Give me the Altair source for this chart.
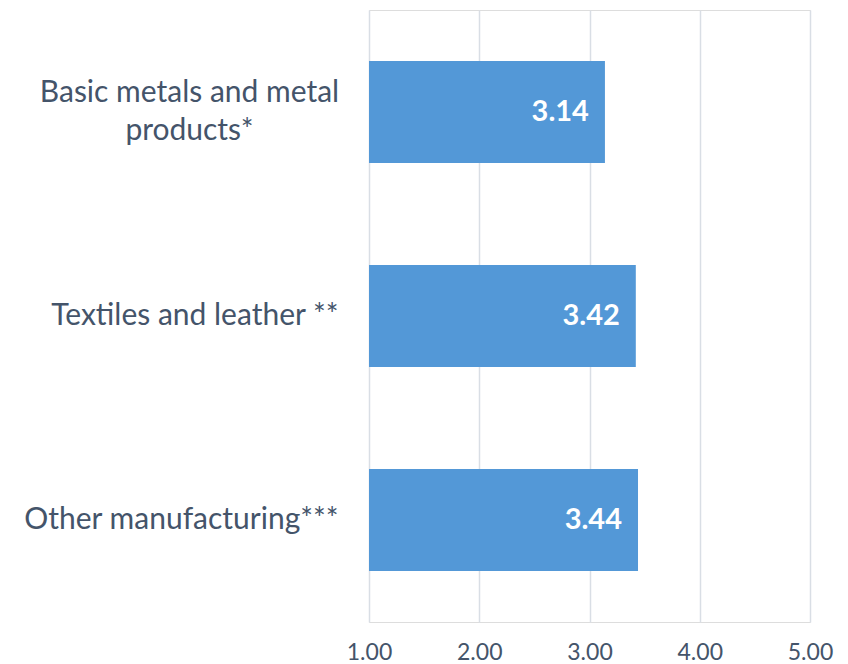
import altair as alt
import pandas as pd

categories = ["Basic metals and metal|products*", "Textiles and leather **", "Other manufacturing***"]
values = [3.14, 3.42, 3.44]
x_ticks = [1, 2, 3, 4, 5]

df = pd.DataFrame({"category": categories, "value": values})

FONT = "Lato"
TEXT_COLOR = "#44546a"
MULTI = "indexof(datum.value, '|') >= 0"

y_enc = alt.Y(
    "category:N",
    sort=categories,
    title=None,
    scale=alt.Scale(paddingInner=0.5, paddingOuter=0.25),
    axis=alt.Axis(
        domain=False,
        ticks=False,
        grid=False,
        labelExpr="split(datum.label, '|')",
        labelAlign=alt.ExprRef(f"{MULTI} ? 'center' : 'right'"),
        labelPadding=alt.ExprRef(f"{MULTI} ? 180 : 31"),
        labelOffset=alt.ExprRef(f"{MULTI} ? -19 : 0"),
        labelFont=FONT,
        labelFontSize=30,
        labelColor=TEXT_COLOR,
        labelLineHeight=38,
        labelLimit=400,
    ),
)

x_enc = alt.X(
    "value:Q",
    title=None,
    scale=alt.Scale(domain=[1, 5], nice=False, zero=False),
    axis=alt.Axis(
        values=x_ticks,
        format=".2f",
        domain=False,
        ticks=False,
        grid=True,
        gridColor="#d9dee5",
        gridWidth=1.5,
        labelFont=FONT,
        labelFontSize=23,
        labelColor=TEXT_COLOR,
        labelPadding=19,
        labelFlush=False,
        labelOverlap=False,
    ),
)

bars = alt.Chart(df).mark_bar(color="#5398d7").encode(
    x=x_enc, x2=alt.datum(1), y=y_enc
)

text = alt.Chart(df).mark_text(
    align="right", baseline="middle", dx=-16, font=FONT, fontSize=29,
    fontWeight="bold", color="white"
).encode(
    x=alt.X("value:Q"),
    y=alt.Y("category:N", sort=categories),
    text=alt.Text("value:Q", format=".2f"),
)

chart = alt.layer(bars, text).properties(
    width=441,
    height=612,
    autosize=alt.AutoSizeParams(type="none"),
    padding={"left": 361, "top": 2, "right": 30, "bottom": 42},
).configure_view(stroke=None).configure(background="white")

chart.save("out.html", embed_options={"renderer": "svg", "actions": False})
